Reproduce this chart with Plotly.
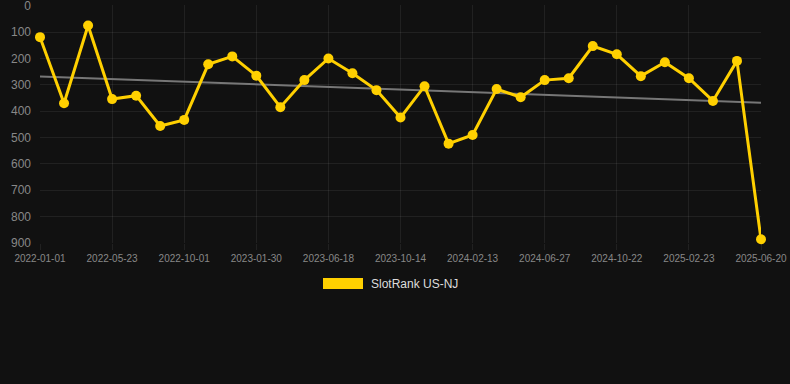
import plotly.graph_objects as go

# Data
tick_labels = ["2022-01-01", "2022-05-23", "2022-10-01", "2023-01-30", "2023-06-18",
               "2023-10-14", "2024-02-13", "2024-06-27", "2024-10-22", "2025-02-23", "2025-06-20"]
ranks = [119, 370, 75, 354, 341, 456, 433, 222, 192, 265, 385, 282, 200, 256, 320, 424,
         305, 523, 490, 316, 347, 282, 275, 153, 184, 267, 214, 275, 361, 209, 886]
trend_start = 268
trend_end = 368
series_name = "SlotRank US-NJ"

x_idx = list(range(len(ranks)))
tick_idx = x_idx[::3]

gold = "#FFD000"
grid = "rgba(255,255,255,0.07)"

fig = go.Figure()
fig.add_trace(go.Scatter(
    x=[x_idx[0], x_idx[-1]], y=[trend_start, trend_end], mode="lines",
    line=dict(color="#777777", width=2), showlegend=False, hoverinfo="skip",
    cliponaxis=False))
fig.add_trace(go.Scatter(
    x=x_idx, y=ranks, mode="lines+markers", name=series_name,
    line=dict(color=gold, width=3), marker=dict(color=gold, size=10),
    showlegend=False, cliponaxis=False))

# plot area: top 5px, bottom 243px
ph = 243 - 5
fig.add_shape(type="rect", xref="paper", yref="paper",
              x0=(323 - 40) / 721, x1=(363 - 40) / 721,
              y0=(243 - 289) / ph, y1=(243 - 278) / ph,
              fillcolor=gold, line=dict(width=0))
fig.add_annotation(xref="paper", yref="paper", x=(369 - 40) / 721, y=(243 - 284) / ph,
                   xanchor="left", yanchor="middle", showarrow=False,
                   text=series_name, font=dict(color="#dddddd", size=12, family="Liberation Sans, Arial"))

fig.update_layout(
    width=790, height=384,
    margin=dict(l=40, r=29, t=5, b=141),
    paper_bgcolor="#111111", plot_bgcolor="#111111",
    font=dict(family="Liberation Sans, Arial", color="#888888"),
    xaxis=dict(range=[0, len(ranks) - 1], tickmode="array", tickvals=tick_idx,
               ticktext=tick_labels, showgrid=True, gridcolor=grid, zeroline=False,
               ticks="outside", ticklen=6, tickcolor=grid, automargin=False,
               ticklabeloverflow="allow",
               tickfont=dict(size=10, color="#888888"), showline=False),
    yaxis=dict(range=[900, -3], tickmode="array", tickvals=list(range(0, 901, 100)),
               showgrid=True, gridcolor=grid, zeroline=False, automargin=False,
               ticklabeloverflow="allow",
               tickfont=dict(size=12, color="#888888"), ticklabelstandoff=8),
    showlegend=False,
)

fig.write_html("out.html", config={"displayModeBar": False},
               post_script="document.body.style.margin='0';document.body.style.background='#111111';")
